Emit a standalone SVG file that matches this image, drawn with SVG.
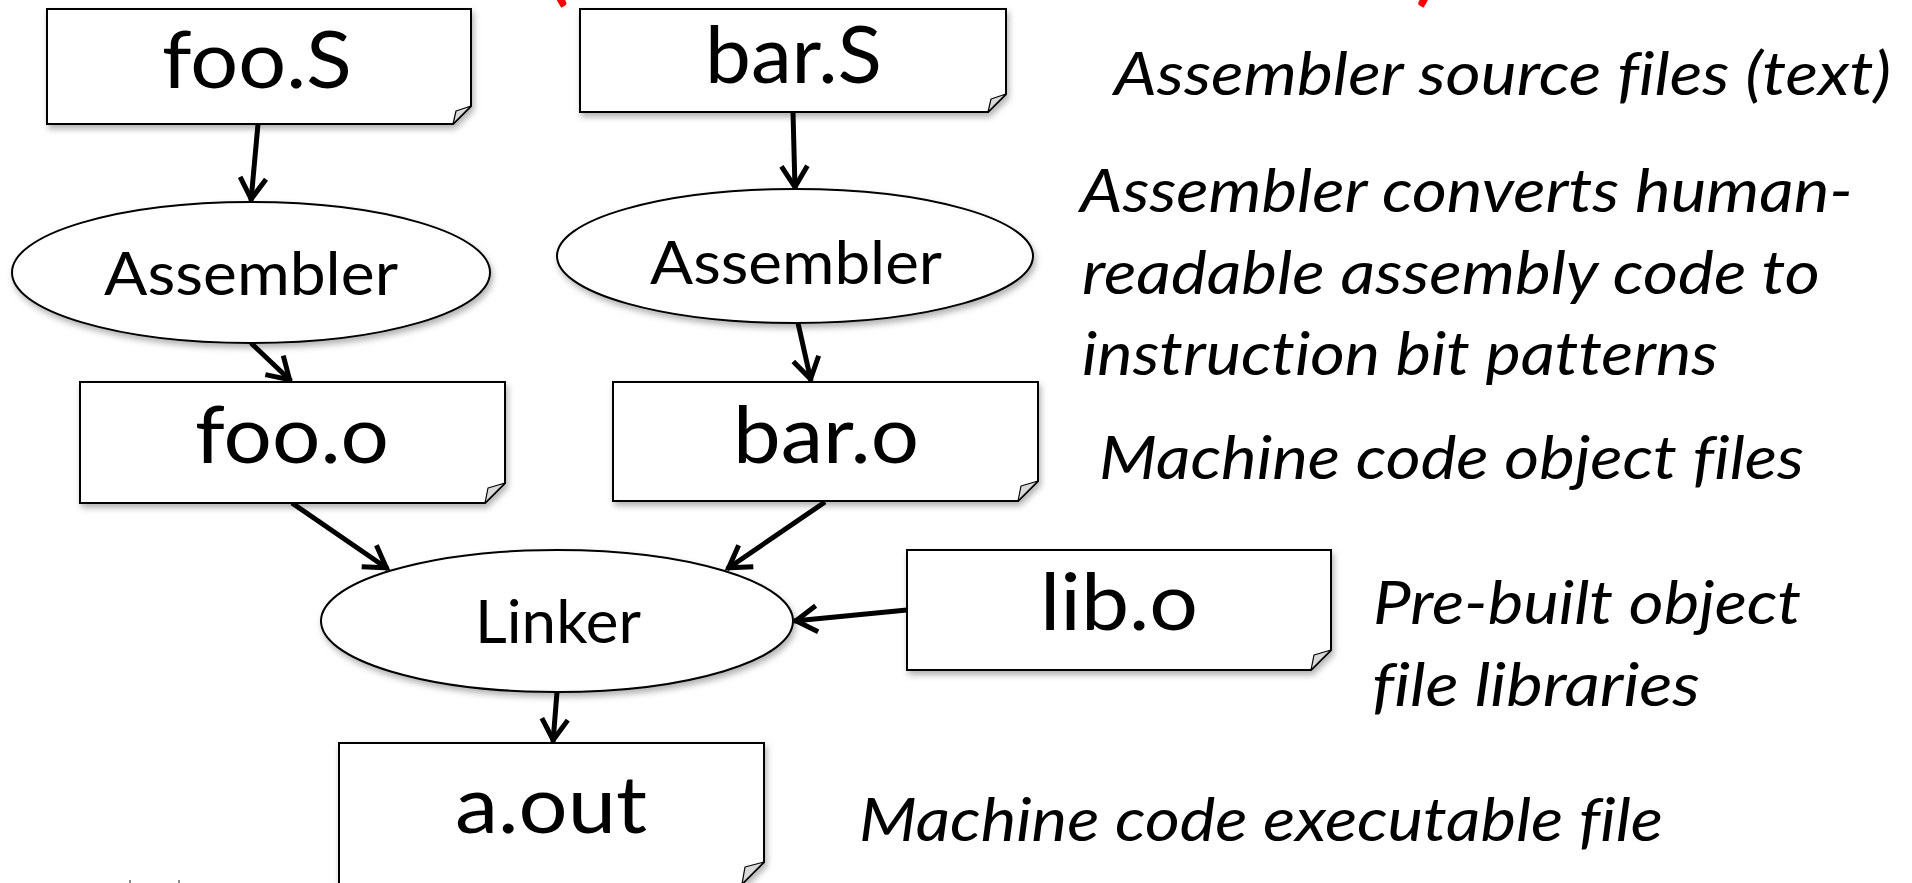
<svg xmlns="http://www.w3.org/2000/svg" width="1912" height="883" viewBox="0 0 1912 883">
  <style>
    .doc { fill: #ffffff; stroke: #000000; stroke-width: 2; filter: url(#sh); }
    .flap { fill: #d9d9d9; stroke: #000000; stroke-width: 1.2; stroke-linejoin: round; }
    .proc { fill: #ffffff; stroke: #000000; stroke-width: 2; filter: url(#sh); }
    .name { font-family: Lato, "Liberation Sans", sans-serif; font-size: 80px; fill: #000000; }
    .tool { font-family: Lato, "Liberation Sans", sans-serif; font-size: 60px; fill: #000000; }
    .note { font-family: Lato, "Liberation Sans", sans-serif; font-style: italic; font-size: 60px; fill: #000000; font-variant-ligatures: none; }
    .paren { font-family: Lato, "Liberation Sans", sans-serif; font-size: 100px; fill: #ff0000; }
    .edge { fill: none; stroke: #000000; stroke-width: 5; marker-end: url(#arr); }
  </style>
  <defs>
    <filter id="sh" x="-5%" y="-10%" width="115%" height="140%">
      <feDropShadow dx="2" dy="4" stdDeviation="3" flood-color="#000000" flood-opacity="0.3"/>
    </filter>
    <marker id="arr" markerUnits="userSpaceOnUse" markerWidth="40" markerHeight="36" viewBox="-30 -18 40 36" refX="0" refY="0" orient="auto">
      <path d="M-23,-13 L-2,0 L-23,13" fill="none" stroke="#000000" stroke-width="5"/>
    </marker>
  </defs>

  <rect x="0" y="0" width="1912" height="883" fill="#ffffff"/>

  <!-- red brackets of the heading line above -->
  <g id="heading">
    <text class="paren" x="543" y="-7">(</text>
    <text class="paren" x="1415" y="-7">)</text>
  </g>

  <!-- connectors -->
  <g id="connectors">
    <line class="edge" x1="258" y1="124" x2="251" y2="201"/>
    <line class="edge" x1="793" y1="112" x2="795" y2="189"/>
    <line class="edge" x1="251" y1="343" x2="291" y2="381"/>
    <line class="edge" x1="798" y1="323" x2="811" y2="381"/>
    <line class="edge" x1="292" y1="503" x2="388" y2="569"/>
    <line class="edge" x1="825" y1="502" x2="727" y2="569"/>
    <line class="edge" x1="907" y1="610" x2="794" y2="621"/>
    <line class="edge" x1="557" y1="692" x2="553" y2="742"/>
  </g>

  <!-- source files -->
  <g id="fooS">
    <path class="doc" d="M47,9 H471 V106 L453,124 H47 Z"/>
    <path class="flap" d="M471,106 L456,111 L453,124 Z"/>
    <text class="name" x="162" y="88" textLength="190" lengthAdjust="spacingAndGlyphs">foo.S</text>
  </g>
  <g id="barS">
    <path class="doc" d="M580,9 H1006 V94 L988,112 H580 Z"/>
    <path class="flap" d="M1006,94 L991,99 L988,112 Z"/>
    <text class="name" x="705" y="83" textLength="177" lengthAdjust="spacingAndGlyphs">bar.S</text>
  </g>

  <!-- assemblers -->
  <g id="asm1">
    <ellipse class="proc" cx="251" cy="272.5" rx="239" ry="70.5"/>
    <text class="tool" x="104" y="295" textLength="294" lengthAdjust="spacingAndGlyphs">Assembler</text>
  </g>
  <g id="asm2">
    <ellipse class="proc" cx="795" cy="256" rx="238" ry="67"/>
    <text class="tool" x="650" y="284" textLength="292" lengthAdjust="spacingAndGlyphs">Assembler</text>
  </g>

  <!-- object files -->
  <g id="fooO">
    <path class="doc" d="M80,382 H505 V483 L485,503 H80 Z"/>
    <path class="flap" d="M505,483 L488,488 L485,503 Z"/>
    <text class="name" x="195" y="463" textLength="194" lengthAdjust="spacingAndGlyphs">foo.o</text>
  </g>
  <g id="barO">
    <path class="doc" d="M613,382 H1038 V481 L1018,501 H613 Z"/>
    <path class="flap" d="M1038,481 L1021,486 L1018,501 Z"/>
    <text class="name" x="733" y="463" textLength="186" lengthAdjust="spacingAndGlyphs">bar.o</text>
  </g>
  <g id="libO">
    <path class="doc" d="M907,550 H1331 V650 L1311,670 H907 Z"/>
    <path class="flap" d="M1331,650 L1314,655 L1311,670 Z"/>
    <text class="name" x="1040" y="630" textLength="158" lengthAdjust="spacingAndGlyphs">lib.o</text>
  </g>

  <!-- linker -->
  <g id="linker">
    <ellipse class="proc" cx="557" cy="621" rx="236" ry="71"/>
    <text class="tool" x="475" y="643" textLength="166" lengthAdjust="spacingAndGlyphs">Linker</text>
  </g>

  <!-- executable -->
  <g id="aout">
    <path class="doc" d="M339,743 H764 V862 L742,884 H339 Z"/>
    <path class="flap" d="M764,862 L745,867 L742,884 Z"/>
    <text class="name" x="455" y="833" textLength="192" lengthAdjust="spacingAndGlyphs">a.out</text>
  </g>

  <!-- explanations -->
  <g id="notes">
    <text class="note" x="1114" y="95" textLength="777" lengthAdjust="spacingAndGlyphs">Assembler source files (text)</text>
    <text class="note" x="1080" y="212" textLength="773" lengthAdjust="spacingAndGlyphs">Assembler converts human-</text>
    <text class="note" x="1082" y="294" textLength="738" lengthAdjust="spacingAndGlyphs">readable assembly code to</text>
    <text class="note" x="1082" y="375" textLength="636" lengthAdjust="spacingAndGlyphs">instruction bit patterns</text>
    <text class="note" x="1099" y="479" textLength="705" lengthAdjust="spacingAndGlyphs">Machine code object files</text>
    <text class="note" x="1373" y="624" textLength="428" lengthAdjust="spacingAndGlyphs">Pre-built object</text>
    <text class="note" x="1372" y="706" textLength="328" lengthAdjust="spacingAndGlyphs">file libraries</text>
    <text class="note" x="859" y="841" textLength="804" lengthAdjust="spacingAndGlyphs">Machine code executable file</text>
  </g>

  <!-- footer fragments at the bottom edge -->
  <g id="footer" fill="#8c8c8c">
    <rect x="129" y="880" width="2" height="3"/>
    <rect x="178" y="880" width="2" height="3"/>
  </g>
</svg>
